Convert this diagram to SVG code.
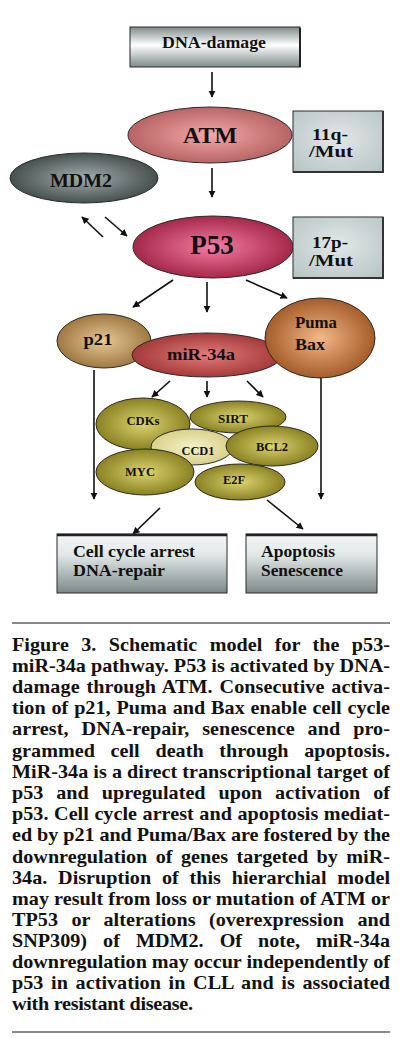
<svg xmlns="http://www.w3.org/2000/svg" width="414" height="1038" viewBox="0 0 414 1038">
<style>
.lbl{font-family:"Liberation Serif","Times New Roman",serif;font-weight:bold;fill:#111;text-anchor:middle}
.lt{font-family:"Liberation Serif","Times New Roman",serif;font-weight:bold;fill:#111}
.cap{font-family:"Liberation Serif","Times New Roman",serif;font-weight:bold;font-size:18px;fill:#111}
.edge{stroke:#111;stroke-width:1.6;fill:none;marker-end:url(#ah)}
.nb{stroke:#2a2a2a;stroke-width:1}
</style>
<defs>
<marker id="ah" viewBox="0 0 10 10" refX="9" refY="5" markerWidth="4.5" markerHeight="4.5" orient="auto" markerUnits="strokeWidth">
<path d="M0,0 L10,5 L0,10 z" fill="#111"/>
</marker>
<linearGradient id="gBox" x1="0" y1="0" x2="0" y2="1">
<stop offset="0" stop-color="#7e8a8a"/><stop offset="0.45" stop-color="#ffffff"/><stop offset="1" stop-color="#7e8a8a"/>
</linearGradient>
<linearGradient id="gOut" x1="0" y1="0" x2="0" y2="1">
<stop offset="0" stop-color="#f4f6f6"/><stop offset="0.35" stop-color="#e2e8e8"/><stop offset="1" stop-color="#7c8888"/>
</linearGradient>
<radialGradient id="gMut" cx="0.5" cy="0.45" r="0.7">
<stop offset="0" stop-color="#e2e8e8"/><stop offset="1" stop-color="#b8c4c4"/>
</radialGradient>
<radialGradient id="gATM"><stop offset="0" stop-color="#f4a8a8"/><stop offset="1" stop-color="#b86464"/></radialGradient>
<radialGradient id="gP53"><stop offset="0" stop-color="#f47ca6"/><stop offset="1" stop-color="#a42848"/></radialGradient>
<radialGradient id="gMDM"><stop offset="0" stop-color="#a4aeae"/><stop offset="1" stop-color="#46504f"/></radialGradient>
<radialGradient id="gP21"><stop offset="0" stop-color="#e6c898"/><stop offset="1" stop-color="#a07840"/></radialGradient>
<radialGradient id="gMIR"><stop offset="0" stop-color="#e47c7c"/><stop offset="1" stop-color="#a43a3a"/></radialGradient>
<radialGradient id="gPUMA"><stop offset="0" stop-color="#f4b888"/><stop offset="1" stop-color="#a45c2a"/></radialGradient>
<radialGradient id="gOL"><stop offset="0" stop-color="#dcd470"/><stop offset="1" stop-color="#8a8222"/></radialGradient>
<radialGradient id="gCCD"><stop offset="0" stop-color="#f6f2c8"/><stop offset="1" stop-color="#d8d08a"/></radialGradient>
</defs>

<g id="dna-damage">
<rect x="130" y="27" width="170" height="40" fill="url(#gBox)" class="nb"/>
<line x1="300" y1="28" x2="300" y2="67" stroke="#222" stroke-width="2"/>
<text class="lbl" x="214" y="48" font-size="16" textLength="104" lengthAdjust="spacingAndGlyphs">DNA-damage</text>
</g>

<g id="connectors">
<line class="edge" x1="212" y1="72" x2="212" y2="97"/>
<line class="edge" x1="212" y1="168" x2="212" y2="197"/>
<line class="edge" x1="103" y1="237" x2="82" y2="217"/>
<line class="edge" x1="105" y1="217" x2="127" y2="236"/>
<line class="edge" x1="173" y1="280" x2="133" y2="307"/>
<line class="edge" x1="207" y1="282" x2="207" y2="312"/>
<line class="edge" x1="246" y1="280" x2="287" y2="298"/>
<line class="edge" x1="170" y1="381" x2="152" y2="397"/>
<line class="edge" x1="207" y1="381" x2="207" y2="397"/>
<line class="edge" x1="247" y1="381" x2="263" y2="397"/>
<line class="edge" x1="94" y1="370" x2="94" y2="499"/>
<line class="edge" x1="321" y1="378" x2="321" y2="499"/>
<line class="edge" x1="160" y1="508" x2="133" y2="534"/>
<line class="edge" x1="267" y1="500" x2="303" y2="529"/>
</g>

<g id="atm">
<ellipse cx="210" cy="135" rx="82" ry="28" fill="url(#gATM)" class="nb"/>
<text class="lbl" x="210" y="143" font-size="24">ATM</text>
</g>

<g id="mut11q">
<rect x="293" y="111" width="90" height="61" fill="url(#gMut)" class="nb"/>
<path d="M383,111 V172 H293" stroke="#333" stroke-width="2" fill="none"/>
<text class="lt" x="312" y="140" font-size="17" textLength="36" lengthAdjust="spacingAndGlyphs">11q-</text>
<text class="lt" x="309" y="157" font-size="17" textLength="44" lengthAdjust="spacingAndGlyphs">/Mut</text>
</g>

<g id="mdm2">
<ellipse cx="84" cy="178" rx="74" ry="25" fill="url(#gMDM)" class="nb"/>
<text class="lbl" x="81" y="187" font-size="19" textLength="62" lengthAdjust="spacingAndGlyphs">MDM2</text>
</g>

<g id="p53">
<ellipse cx="213" cy="247" rx="80" ry="31" fill="url(#gP53)" class="nb"/>
<text class="lbl" x="212" y="254" font-size="27">P53</text>
</g>

<g id="mut17p">
<rect x="293" y="217" width="90" height="61" fill="url(#gMut)" class="nb"/>
<path d="M383,217 V278 H293" stroke="#333" stroke-width="2" fill="none"/>
<text class="lt" x="312" y="248" font-size="17" textLength="36" lengthAdjust="spacingAndGlyphs">17p-</text>
<text class="lt" x="309" y="266" font-size="17" textLength="44" lengthAdjust="spacingAndGlyphs">/Mut</text>
</g>

<g id="p21">
<ellipse cx="104" cy="341" rx="47" ry="27" fill="url(#gP21)" class="nb"/>
<text class="lbl" x="98" y="345" font-size="17" textLength="29" lengthAdjust="spacingAndGlyphs">p21</text>
</g>

<g id="mir34a">
<ellipse cx="207" cy="355" rx="75" ry="22" fill="url(#gMIR)" class="nb"/>
<text class="lbl" x="201" y="360" font-size="17" textLength="68" lengthAdjust="spacingAndGlyphs">miR-34a</text>
</g>

<g id="pumabax">
<ellipse cx="320" cy="338" rx="55" ry="40" fill="url(#gPUMA)" class="nb"/>
<text class="lt" x="295" y="328" font-size="16" textLength="42" lengthAdjust="spacingAndGlyphs">Puma</text>
<text class="lt" x="295" y="350" font-size="16" textLength="30" lengthAdjust="spacingAndGlyphs">Bax</text>
</g>

<g id="cdks">
<ellipse cx="143" cy="424" rx="47" ry="26" fill="url(#gOL)" class="nb"/>
<text class="lbl" x="143" y="425" font-size="12" textLength="33" lengthAdjust="spacingAndGlyphs">CDKs</text>
</g>
<g id="sirt">
<ellipse cx="238" cy="417" rx="48" ry="16" fill="url(#gOL)" class="nb"/>
<text class="lbl" x="233" y="423" font-size="12" textLength="30" lengthAdjust="spacingAndGlyphs">SIRT</text>
</g>
<g id="ccd1">
<ellipse cx="192" cy="447" rx="41" ry="18" fill="url(#gCCD)" class="nb"/>
<text class="lbl" x="198" y="455" font-size="12" textLength="33" lengthAdjust="spacingAndGlyphs">CCD1</text>
</g>
<g id="bcl2">
<ellipse cx="272" cy="446" rx="46" ry="20" fill="url(#gOL)" class="nb"/>
<text class="lbl" x="272" y="451" font-size="12" textLength="32" lengthAdjust="spacingAndGlyphs">BCL2</text>
</g>
<g id="myc">
<ellipse cx="145" cy="472" rx="49" ry="23" fill="url(#gOL)" class="nb"/>
<text class="lbl" x="140" y="476" font-size="12" textLength="30" lengthAdjust="spacingAndGlyphs">MYC</text>
</g>
<g id="e2f">
<ellipse cx="240" cy="482" rx="45" ry="18" fill="url(#gOL)" class="nb"/>
<text class="lbl" x="234" y="484" font-size="12" textLength="22" lengthAdjust="spacingAndGlyphs">E2F</text>
</g>

<g id="cellcycle">
<rect x="57" y="534" width="170" height="59" fill="url(#gOut)" class="nb"/>
<line x1="57" y1="535" x2="227" y2="535" stroke="#222" stroke-width="2.5"/>
<text class="lt" x="73" y="557" font-size="16" textLength="122" lengthAdjust="spacingAndGlyphs">Cell cycle arrest</text>
<text class="lt" x="73" y="576" font-size="16" textLength="92" lengthAdjust="spacingAndGlyphs">DNA-repair</text>
</g>

<g id="apoptosis">
<rect x="246" y="534" width="131" height="59" fill="url(#gOut)" class="nb"/>
<line x1="246" y1="535" x2="377" y2="535" stroke="#222" stroke-width="2.5"/>
<text class="lt" x="261" y="557" font-size="16" textLength="74" lengthAdjust="spacingAndGlyphs">Apoptosis</text>
<text class="lt" x="261" y="576" font-size="16" textLength="82" lengthAdjust="spacingAndGlyphs">Senescence</text>
</g>

<g id="caption">
<line x1="12" y1="623" x2="390" y2="623" stroke="#8a8a8a" stroke-width="2"/>
<g transform="translate(12,0) scale(1.12,1)">
<text class="cap" x="0" y="651" word-spacing="6.5" textLength="337.5" lengthAdjust="spacing">Figure 3. Schematic model for the p53-</text>
<text class="cap" x="0" y="672" textLength="337.5" lengthAdjust="spacing">miR-34a pathway. P53 is activated by DNA-</text>
<text class="cap" x="0" y="693" word-spacing="1.5" textLength="337.5" lengthAdjust="spacing">damage through ATM. Consecutive activa-</text>
<text class="cap" x="0" y="714" word-spacing="0.7" textLength="337.5" lengthAdjust="spacing">tion of p21, Puma and Bax enable cell cycle</text>
<text class="cap" x="0" y="735" word-spacing="6.9" textLength="337.5" lengthAdjust="spacing">arrest, DNA-repair, senescence and pro-</text>
<text class="cap" x="0" y="757" word-spacing="9.5" textLength="337.5" lengthAdjust="spacing">grammed cell death through apoptosis.</text>
<text class="cap" x="0" y="778" textLength="337.5" lengthAdjust="spacing">MiR-34a is a direct transcriptional target of</text>
<text class="cap" x="0" y="799" word-spacing="7" textLength="337.5" lengthAdjust="spacing">p53 and upregulated upon activation of</text>
<text class="cap" x="0" y="820" word-spacing="0.5" textLength="337.5" lengthAdjust="spacing">p53. Cell cycle arrest and apoptosis mediat-</text>
<text class="cap" x="0" y="841" textLength="337.5" lengthAdjust="spacing">ed by p21 and Puma/Bax are fostered by the</text>
<text class="cap" x="0" y="863" word-spacing="3" textLength="337.5" lengthAdjust="spacing">downregulation of genes targeted by miR-</text>
<text class="cap" x="0" y="884" word-spacing="5.1" textLength="337.5" lengthAdjust="spacing">34a. Disruption of this hierarchial model</text>
<text class="cap" x="0" y="905" textLength="337.5" lengthAdjust="spacing">may result from loss or mutation of ATM or</text>
<text class="cap" x="0" y="926" word-spacing="7.4" textLength="337.5" lengthAdjust="spacing">TP53 or alterations (overexpression and</text>
<text class="cap" x="0" y="947" word-spacing="9.8" textLength="337.5" lengthAdjust="spacing">SNP309) of MDM2. Of note, miR-34a</text>
<text class="cap" x="0" y="968" textLength="337.5" lengthAdjust="spacing">downregulation may occur independently of</text>
<text class="cap" x="0" y="989" word-spacing="2.3" textLength="337.5" lengthAdjust="spacing">p53 in activation in CLL and is associated</text>
<text class="cap" x="0" y="1010" textLength="161.6" lengthAdjust="spacing">with resistant disease.</text>
</g>
<line x1="12" y1="1032" x2="390" y2="1032" stroke="#8a8a8a" stroke-width="2"/>
</g>
</svg>
